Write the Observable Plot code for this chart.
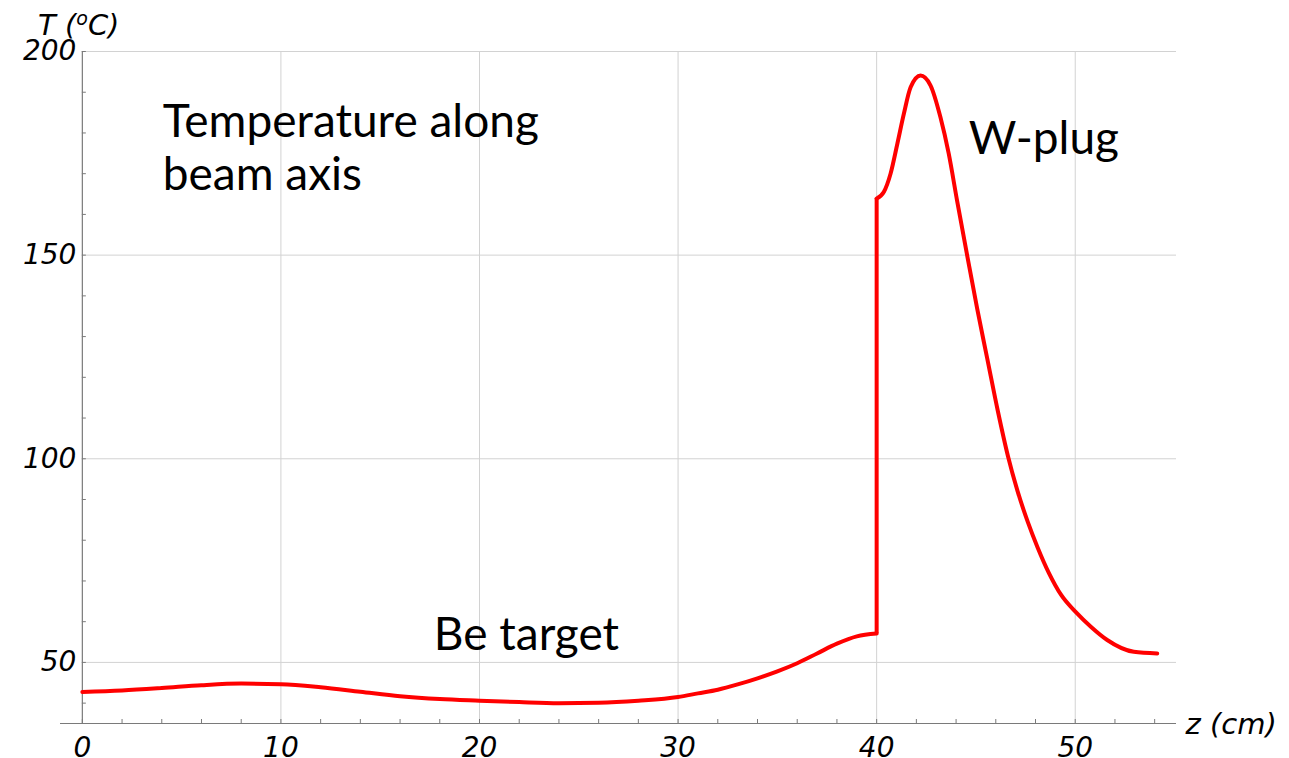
<!DOCTYPE html>
<html><head><meta charset="utf-8">
<script src="https://cdn.jsdelivr.net/npm/d3@7"></script>
<script src="https://cdn.jsdelivr.net/npm/@observablehq/plot@0.6"></script>
<style>html,body{margin:0;padding:0;background:#fff;}</style>
</head><body><div id="chart"></div>
<script>
// Be target segment (z in cm, T in °C)
const beZ = [0, 2, 4, 6, 8, 10, 12, 14, 16, 18, 20, 22, 24, 26, 28, 30, 31, 32, 33, 34, 35, 36, 37, 38, 39, 40];
const beT = [42.75, 43.1, 43.7, 44.4, 44.8, 44.65, 43.9, 42.8, 41.7, 41.0, 40.6, 40.25, 40.0, 40.1, 40.6, 41.5, 42.4, 43.3, 44.6, 46.1, 47.8, 49.8, 52.2, 54.6, 56.4, 57.1];
// W-plug segment
const wZ = [40, 40.36, 40.70, 41.04, 41.37, 41.71, 42.21, 42.71, 43.21, 43.63, 44.05, 44.56, 45.06, 45.57, 46.1, 46.62, 47.1, 47.61, 48.1, 48.67, 49.3, 50.02, 50.8, 51.61, 52.95, 54.13];
const wT = [163.9, 165.5, 170.0, 177.3, 184.7, 191.2, 194.1, 191.7, 183.9, 174.9, 163.4, 149.9, 136.9, 124.6, 111.8, 100.5, 92.0, 84.5, 78.3, 72.0, 66.5, 62.4, 58.7, 55.5, 52.6, 52.2];

const xTicks = [0, 10, 20, 30, 40, 50];
const xMinorTicks = [2, 4, 6, 8, 12, 14, 16, 18, 22, 24, 26, 28, 32, 34, 36, 38, 42, 44, 46, 48, 52, 54];
const yTicks = [50, 100, 150, 200];
const yMinorTicks = [40, 60, 70, 80, 90, 110, 120, 130, 140, 160, 170, 180, 190];
const xGrid = [10, 20, 30, 40, 50];

const annotationText = ["Temperature along", "beam axis", "W-plug", "Be target"];
const annotationZ = [4.05, 4.05, 44.64, 17.7];
const annotationT = [179.0, 165.9, 174.9, 53.0];

const xLabel = "z (cm)";

const W = 1289, H = 758, mL = 60, mR = 113, mT = 51, mB = 35;
const xDomain = [-1.1, 55.1], yDomain = [35, 200];
const pxX = (W - mL - mR) / (xDomain[1] - xDomain[0]);
const pxY = (H - mT - mB) / (yDomain[1] - yDomain[0]);
const tickLen = 4;

const beData = beZ.map((z, i) => ({z, T: beT[i]}));
const wData = wZ.map((z, i) => ({z, T: wT[i]}));
const jump = [{z: beZ[beZ.length - 1], y1: beT[beT.length - 1], y2: wT[0]}];
const annotations = annotationText.map((t, i) => ({text: t, z: annotationZ[i], T: annotationT[i]}));

const gridColor = "#d2d2d2", axisColor = "#7a7a7a", red = "#ff0000";
const tickFont = {fontSize: 28, fontStyle: "italic", fontFamily: "DejaVu Sans", fill: "black"};

const plot = Plot.plot({
  width: W, height: H,
  marginLeft: mL, marginRight: mR, marginTop: mT, marginBottom: mB,
  x: {domain: xDomain, axis: null},
  y: {domain: yDomain, axis: null},
  style: {background: "white", overflow: "visible"},
  marks: [
    Plot.ruleX(xGrid, {x: d => d, y1: yDomain[0], y2: yDomain[1], stroke: gridColor, strokeWidth: 1}),
    Plot.ruleY(yTicks, {y: d => d, x1: 0, x2: xDomain[1], stroke: gridColor, strokeWidth: 1}),
    Plot.ruleY([yDomain[0]], {x1: xDomain[0], x2: xDomain[1], stroke: axisColor, strokeWidth: 1.2}),
    Plot.ruleX([0], {y1: yDomain[0], y2: yDomain[1], stroke: axisColor, strokeWidth: 1.2}),
    Plot.ruleX(xTicks.concat(xMinorTicks), {x: d => d, y1: yDomain[0], y2: yDomain[0] + tickLen / pxY, stroke: axisColor}),
    Plot.ruleY(yTicks.concat(yMinorTicks), {y: d => d, x1: 0, x2: tickLen / pxX, stroke: axisColor}),
    Plot.text(xTicks, {x: d => d, y: yDomain[0], dy: 33, text: d => String(d), textAnchor: "middle", lineAnchor: "bottom", ...tickFont}),
    Plot.text(yTicks, {x: 0, y: d => d, dx: -6, text: d => String(d), textAnchor: "end", lineAnchor: "middle", ...tickFont}),
    Plot.text([xLabel], {x: xDomain[1], y: yDomain[0], dx: 9, dy: 10, text: d => d, textAnchor: "start", lineAnchor: "bottom", ...tickFont, fontSize: 29}),
    Plot.line(beData, {x: "z", y: "T", stroke: red, strokeWidth: 4, curve: "monotone-x"}),
    Plot.line(wData, {x: "z", y: "T", stroke: red, strokeWidth: 4, curve: "monotone-x"}),
    Plot.ruleX(jump, {x: "z", y1: "y1", y2: "y2", stroke: red, strokeWidth: 4}),
    Plot.text(annotations, {x: "z", y: "T", text: "text", textAnchor: "start", lineAnchor: "bottom", fontSize: 46, fontFamily: "Lato", fill: "black"})
  ]
});

// y-axis title with superscript
const svg = d3.select(plot);
const t = svg.append("text")
  .attr("x", 38).attr("y", 35).attr("text-anchor", "start")
  .attr("font-family", "DejaVu Sans").attr("font-size", 29).attr("font-style", "italic").attr("fill", "black");
t.append("tspan").text("T (");
t.append("tspan").attr("dy", -10).attr("font-size", 19).text("o");
t.append("tspan").attr("dy", 10).text("C)");

document.getElementById("chart").appendChild(plot);
</script>
</body></html>
